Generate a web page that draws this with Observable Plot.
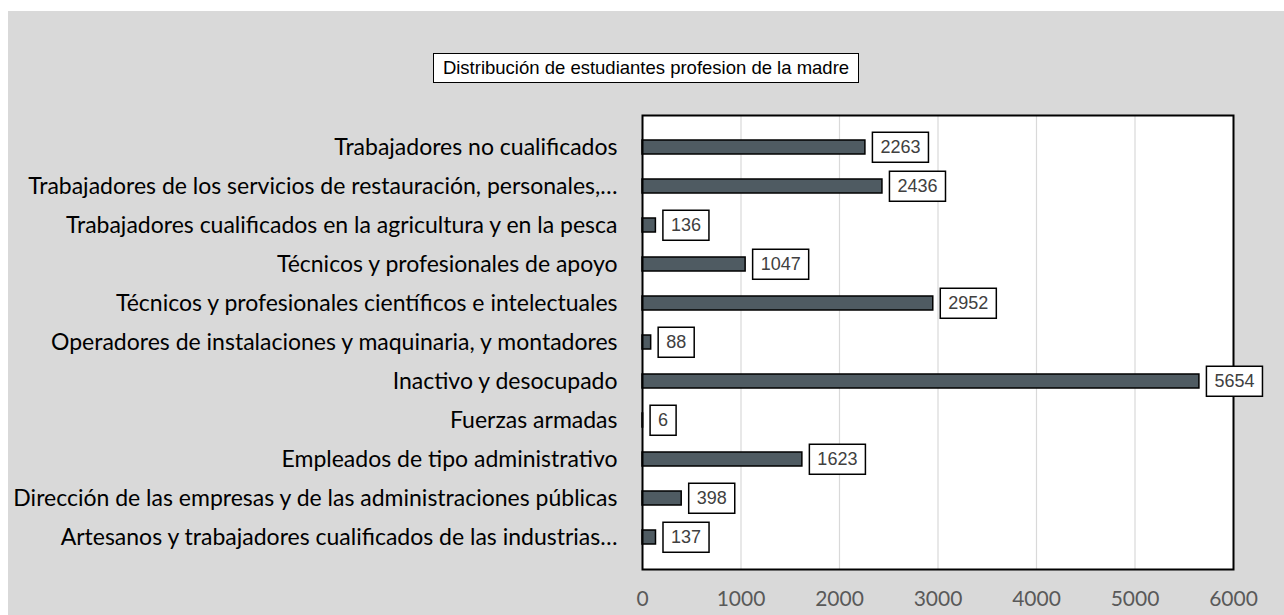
<!DOCTYPE html>
<html>
<head>
<meta charset="utf-8">
<script src="https://cdn.jsdelivr.net/npm/d3@7"></script>
<script src="https://cdn.jsdelivr.net/npm/@observablehq/plot@0.6"></script>
<style>
  html, body { margin: 0; padding: 0; background: #ffffff; }
  #panel { position: absolute; left: 8px; top: 11px; width: 1276px; height: 604px; background: #d9d9d9; overflow: hidden; }
  #title { position: absolute; left: 425px; top: 42px; width: 424px; height: 28px; line-height: 28px; text-align: center;
           background: #fff; border: 1px solid #000; font-family: "Liberation Sans", Arial, sans-serif; font-size: 18.5px; color: #000; white-space: nowrap; }
  #chart { position: absolute; left: 0; top: 79px; }
</style>
</head>
<body>
<div id="panel">
  <div id="title">Distribución de estudiantes profesion de la madre</div>
  <div id="chart"></div>
</div>
<script>
const categories = [
  "Trabajadores no cualificados",
  "Trabajadores de los servicios de restauración, personales,…",
  "Trabajadores cualificados en la agricultura y en la pesca",
  "Técnicos y profesionales de apoyo",
  "Técnicos y profesionales científicos e intelectuales",
  "Operadores de instalaciones y maquinaria, y montadores",
  "Inactivo y desocupado",
  "Fuerzas armadas",
  "Empleados de tipo administrativo",
  "Dirección de las empresas y de las administraciones públicas",
  "Artesanos y trabajadores cualificados de las industrias…"
];
const values = [2263, 2436, 136, 1047, 2952, 88, 5654, 6, 1623, 398, 137];
const xTicks = [0, 1000, 2000, 3000, 4000, 5000, 6000];

const data = categories.map((c, i) => ({category: c, value: values[i]}));

const chart = Plot.plot({
  width: 1276,
  height: 525,
  marginLeft: 634,
  marginRight: 51,
  marginTop: 25,
  marginBottom: 46,
  style: {background: "transparent", fontFamily: "Lato, 'Open Sans', sans-serif"},
  x: {domain: [0, 6000], ticks: xTicks},
  y: {domain: categories, padding: 0.63},
  marks: [
    Plot.frame({fill: "white"}),
    Plot.gridX(xTicks, {stroke: "#d9d9d9", strokeOpacity: 1, strokeWidth: 1.2}),
    Plot.barX(data, {x: "value", y: "category", fill: "#4f5b62", stroke: "#000", strokeWidth: 1.5}),
    Plot.frame({stroke: "#000", strokeWidth: 2}),
    Plot.axisX({ticks: xTicks, tickFormat: d => String(d), tickSize: 0, tickPadding: 22, fontSize: 21, fill: "#595959", label: null}),
    Plot.axisY({tickSize: 0, tickPadding: 25, fontSize: 23, fill: "#000", label: null}),
    Plot.text(data, {x: "value", y: "category", text: d => String(d.value), dx: 15, textAnchor: "start",
      fontSize: 18, fill: "#404040", fontFamily: "'Liberation Sans', Arial, sans-serif", className: "vlabel"})
  ]
});
document.getElementById("chart").appendChild(chart);

// draw boxes behind the value labels
d3.select(chart).selectAll("g.vlabel text").each(function() {
  const bb = this.getBBox();
  const t = this.getAttribute("transform");
  const parent = this.parentNode;
  const rect = document.createElementNS("http://www.w3.org/2000/svg", "rect");
  rect.setAttribute("x", bb.x - 8);
  rect.setAttribute("y", bb.y + bb.height / 2 - 15);
  rect.setAttribute("width", bb.width + 16);
  rect.setAttribute("height", 30);
  rect.setAttribute("fill", "#fff");
  rect.setAttribute("stroke", "#000");
  rect.setAttribute("stroke-width", 1.5);
  if (t) rect.setAttribute("transform", t);
  parent.insertBefore(rect, this);
});
</script>
</body>
</html>
